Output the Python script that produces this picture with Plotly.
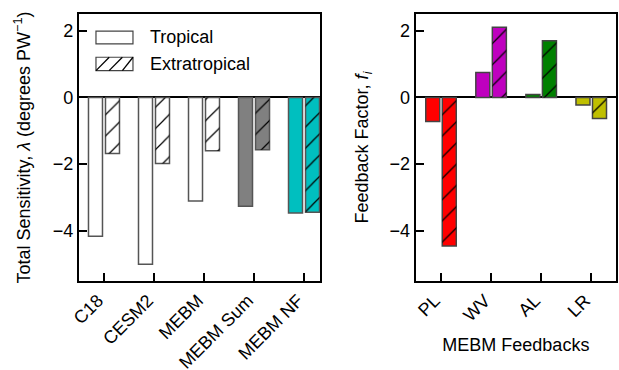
import plotly.graph_objects as go

# Left panel data
models = ["C18", "CESM2", "MEBM", "MEBM Sum", "MEBM NF"]
trop_total = [-4.16, -5.0, -3.1, -3.26, -3.46]
extra_total = [-1.68, -1.98, -1.6, -1.57, -3.44]
model_colors = ["#ffffff", "#ffffff", "#ffffff", "#808080", "#00bfbf"]

# Right panel data
feedbacks = ["PL", "WV", "AL", "LR"]
trop_fb = [-0.72, 0.75, 0.09, -0.23]
extra_fb = [-4.45, 2.1, 1.7, -0.63]
fb_colors = ["#ff0000", "#bf00bf", "#008000", "#bfbf00"]

yticks = [-4, -2, 0, 2]
FONT = "Liberation Sans, Arial, sans-serif"
FS = 18

fig = go.Figure()

W = 0.28
HATCH = dict(shape="/", fgcolor="#000000", bgcolor="rgba(0,0,0,0)", fgopacity=1,
             size=15, solidity=0.08, fillmode="replace")


def add_pair(xcats, trop, extra, colors, edge, xa, ya, off_t):
    xs = list(range(len(xcats)))
    fig.add_trace(go.Bar(x=xs, y=trop, width=W, offset=off_t,
                         marker=dict(color=colors, line=dict(color=edge, width=1.5)),
                         xaxis=xa, yaxis=ya, showlegend=False))
    fig.add_trace(go.Bar(x=xs, y=extra, width=W, offset=0.03,
                         marker=dict(color=colors, line=dict(color=edge, width=1.5)),
                         xaxis=xa, yaxis=ya, showlegend=False))
    # hatch overlay
    fig.add_trace(go.Bar(x=xs, y=extra, width=W, offset=0.03,
                         marker=dict(color="#000000", line=dict(width=0), pattern=HATCH),
                         xaxis=xa, yaxis=ya, showlegend=False, hoverinfo="skip"))


add_pair(models, trop_total, extra_total, model_colors, "#555555", "x", "y", -0.31)
add_pair(feedbacks, trop_fb, extra_fb, fb_colors, "#444444", "x2", "y2", -0.30)

axis_common = dict(showline=True, linecolor="black", linewidth=2, mirror=True,
                   ticks="inside", ticklen=8, tickwidth=2, tickcolor="black", automargin=False,
                   showgrid=False, tickfont=dict(family=FONT, size=FS, color="black"))

yax = dict(axis_common, range=[-5.5, 2.5], tickvals=yticks, ticktext=[str(v).replace("-", "−") for v in yticks],
           zeroline=True, zerolinecolor="black", zerolinewidth=2)

fig.update_layout(
    width=619, height=370,
    margin=dict(l=0, r=0, t=0, b=0),
    plot_bgcolor="white", paper_bgcolor="white",
    font=dict(family=FONT, size=FS, color="black"),
    barmode="overlay",
    xaxis=dict(axis_common, domain=[0.1276, 0.517], range=[-0.5, 4.32],
               tickvals=list(range(len(models))), ticktext=models, tickangle=-45, anchor="y",
               ticklabelshift=-6),
    yaxis=dict(yax, domain=[0.2405, 0.9622], anchor="x",
               title=dict(text="Total Sensitivity, <i>λ</i> (degrees PW<sup>−1</sup>)",
                          font=dict(family=FONT, size=FS), standoff=18)),
    xaxis2=dict(axis_common, domain=[0.6716, 0.9952], range=[-0.5, 3.5],
                tickvals=list(range(len(feedbacks))), ticktext=feedbacks, tickangle=-45, anchor="y2",
                ticklabelshift=-6,
                title=dict(text="MEBM Feedbacks", font=dict(family=FONT, size=FS), standoff=14)),
    yaxis2=dict(yax, domain=[0.2405, 0.9622], anchor="x2",
                title=dict(text="Feedback Factor, <i>f<sub>i</sub></i>",
                           font=dict(family=FONT, size=FS), standoff=16)),
)

# manual legend (patches + labels)
shapes = []
for (y0, y1) in [(0.888, 0.936), (0.788, 0.838)]:
    shapes.append(dict(type="rect", xref="x domain", yref="y domain", x0=0.0705, x1=0.224,
                       y0=y0, y1=y1, line=dict(color="#444444", width=1.2), fillcolor="white"))
# hatch lines in the second legend patch
for xs in [0.0705, 0.125, 0.18]:
    shapes.append(dict(type="line", xref="x domain", yref="y domain",
                       x0=xs, x1=min(xs + 0.055, 0.224), y0=0.788, y1=0.838,
                       line=dict(color="black", width=1.3)))
fig.update_layout(shapes=shapes)
fig.add_annotation(xref="x domain", yref="y domain", x=0.286, y=0.912, text="Tropical",
                   showarrow=False, xanchor="left", yanchor="middle", font=dict(family=FONT, size=FS))
fig.add_annotation(xref="x domain", yref="y domain", x=0.286, y=0.813, text="Extratropical",
                   showarrow=False, xanchor="left", yanchor="middle", font=dict(family=FONT, size=FS))

fig.write_html("out.html")
